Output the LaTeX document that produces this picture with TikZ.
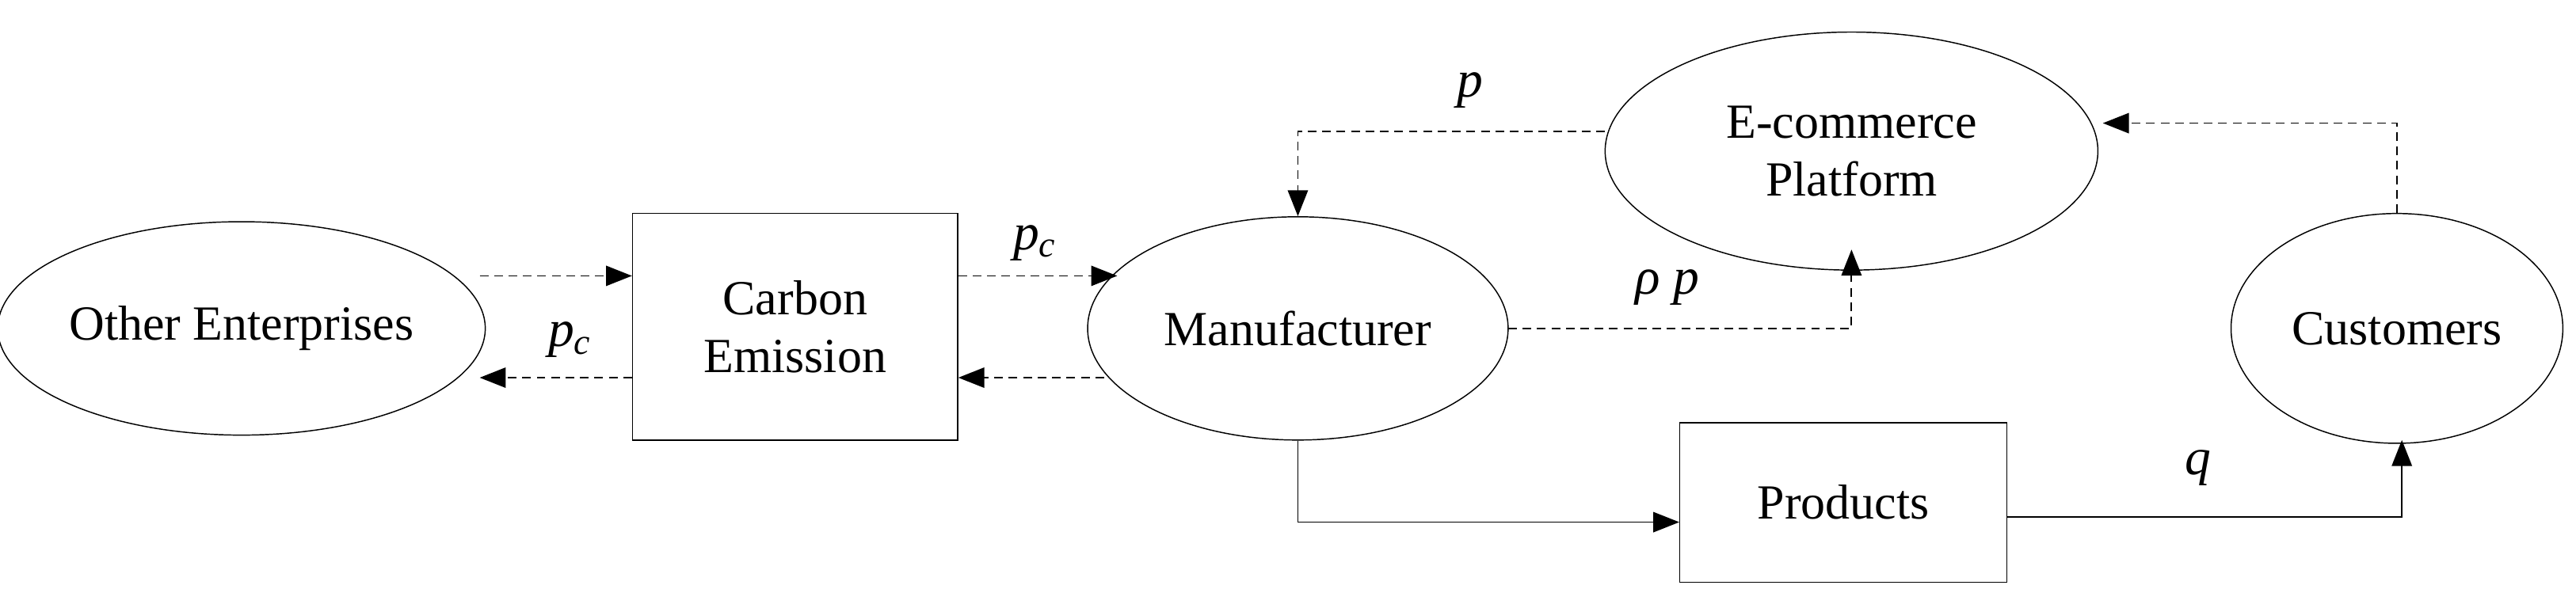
\documentclass[tikz,border=0pt]{standalone}
\usepackage{fontspec}
\setmainfont{Liberation Serif}
\usetikzlibrary{arrows.meta,shapes.geometric}
\begin{document}
\begin{tikzpicture}[x=0.02cm,y=-0.02cm,
  every node/.style={font=\fontsize{17}{20}\selectfont},
  ell/.style={draw,ellipse,inner sep=0pt,align=center},
  box/.style={draw,rectangle,inner sep=0pt,align=center},
  dsh/.style={densely dashed,line width=0.5pt,-{Triangle[length=9pt,width=7pt]}},
  sol/.style={line width=0.5pt,-{Triangle[length=9pt,width=7pt]}},
  lab/.style={font=\itshape\fontsize{18}{20}\selectfont}]
\useasboundingbox (0,0) rectangle (1568,370);
\node[ell,minimum width=5.6cm,minimum height=2.6cm] (oe) at (147,200) {Other Enterprises};
\node[box,minimum width=3.96cm,minimum height=2.76cm] (ce) at (484,199) {Carbon\\Emission};
\node[ell,minimum width=5.12cm,minimum height=2.72cm] (m) at (790,200) {Manufacturer};
\node[ell,minimum width=6cm,minimum height=2.9cm] (e) at (1127,92) {E-commerce\\Platform};
\node[ell,minimum width=4.04cm,minimum height=2.8cm] (c) at (1459,200) {Customers};
\node[box,minimum width=3.98cm,minimum height=1.94cm] (pr) at (1122,306) {Products};
\coordinate (a1) at (292,168);
\draw[dsh] (a1) -- (ce.west |- a1);
\coordinate (a2) at (292,230);
\draw[dsh] (ce.west |- a2) -- (a2);
\node[lab] (l1) at (347,207) {p\textsubscript{c}};
\coordinate (b1) at (680,168);
\draw[dsh] (ce.east |- b1) -- (b1);
\coordinate (b2) at (672,230);
\draw[dsh] (b2) -- (ce.east |- b2);
\node[lab] (l2) at (630,148) {p\textsubscript{c}};
\coordinate (c1) at (977,80);
\draw[dsh] (c1) -| (m.north);
\node[lab] (l3) at (895,55) {p};
\coordinate (d1) at (918,200);
\coordinate (d2) at (1127,152);
\draw[dsh] (d1) -| (d2);
\node[lab] (l4) at (1015,175) {ρ p};
\coordinate (e1) at (1280,75);
\draw[dsh] (c.north) |- (e1);
\draw[sol] (m.south) |- (pr.west |- 0,318);
\coordinate (f1) at (1462,268);
\draw[sol] (pr.east |- 0,315) -| (f1);
\node[lab] (l5) at (1338,285) {q};
\end{tikzpicture}
\end{document}
